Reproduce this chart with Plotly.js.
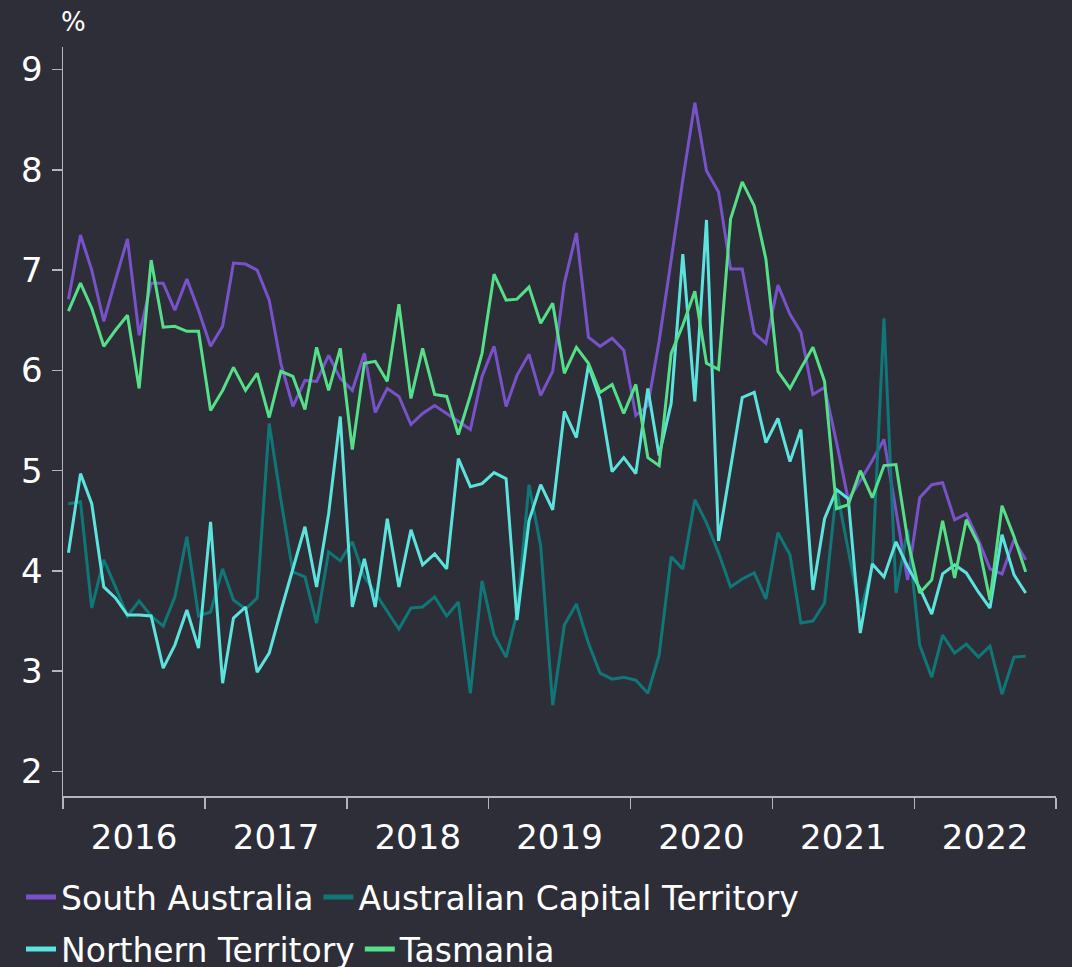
<!DOCTYPE html>
<html>
<head>
<meta charset="utf-8">
<script src="https://cdn.plot.ly/plotly-3.0.1.min.js"></script>
<style>
html,body{margin:0;padding:0;background:#2e2e38;}
#chart{width:1072px;height:967px;}
</style>
</head>
<body>
<div id="chart"></div>
<script>
// Monthly observations, Jan 2016 .. Oct 2022 (82 months)
var startYear = 2016;
var nMonths = 82;
var months = [];
for (var k = 0; k < nMonths; k++) {
  var yy = startYear + Math.floor(k / 12);
  var mm = (k % 12) + 1;
  months.push(yy + '-' + (mm < 10 ? '0' + mm : mm) + '-15');
}

var seriesNames = ['South Australia', 'Australian Capital Territory', 'Northern Territory', 'Tasmania'];

var southAustralia = [
  6.71, 7.35, 7.00, 6.49, 6.90, 7.31, 6.35, 6.87, 6.87, 6.60, 6.91, 6.60,
  6.24, 6.44, 7.07, 7.06, 7.00, 6.70, 6.07, 5.64, 5.90, 5.89, 6.15, 5.92,
  5.80, 6.17, 5.58, 5.82, 5.74, 5.46, 5.57, 5.65, 5.57, 5.49, 5.41, 5.94,
  6.24, 5.64, 5.95, 6.16, 5.75, 5.99, 6.87, 7.37, 6.33, 6.24, 6.32, 6.20,
  5.55, 5.65, 6.29, 7.10, 7.90, 8.67, 7.99, 7.78, 7.01, 7.01, 6.37, 6.27,
  6.85, 6.56, 6.38, 5.76, 5.83, 5.28, 4.71, 4.90, 5.10, 5.31, 4.60, 3.91,
  4.73, 4.86, 4.88, 4.51, 4.57, 4.31, 4.02, 3.97, 4.31, 4.11
];

var capitalTerritory = [
  4.67, 4.69, 3.63, 4.11, 3.84, 3.55, 3.70, 3.55, 3.45, 3.74, 4.34, 3.55,
  3.59, 4.02, 3.71, 3.62, 3.73, 5.47, 4.71, 3.99, 3.94, 3.48, 4.19, 4.10,
  4.29, 3.94, 3.78, 3.59, 3.42, 3.63, 3.64, 3.74, 3.55, 3.69, 2.78, 3.90,
  3.36, 3.14, 3.58, 4.86, 4.25, 2.66, 3.46, 3.67, 3.28, 2.98, 2.92, 2.94,
  2.91, 2.78, 3.16, 4.14, 4.02, 4.71, 4.48, 4.18, 3.84, 3.92, 3.98, 3.72,
  4.38, 4.16, 3.48, 3.50, 3.68, 4.81, 4.21, 3.59, 4.04, 6.52, 3.78, 4.41,
  3.26, 2.94, 3.36, 3.18, 3.27, 3.14, 3.25, 2.77, 3.14, 3.15
];

var northernTerritory = [
  4.18, 4.97, 4.67, 3.84, 3.73, 3.56, 3.56, 3.55, 3.03, 3.26, 3.61, 3.23,
  4.49, 2.88, 3.53, 3.64, 2.99, 3.18, 3.60, 4.01, 4.44, 3.84, 4.57, 5.54,
  3.64, 4.12, 3.64, 4.52, 3.84, 4.41, 4.06, 4.17, 4.02, 5.12, 4.84, 4.87,
  4.98, 4.92, 3.51, 4.50, 4.86, 4.61, 5.59, 5.33, 6.05, 5.71, 4.99, 5.13,
  4.97, 5.82, 5.15, 5.67, 7.16, 5.69, 7.50, 4.30, 5.02, 5.73, 5.78, 5.28,
  5.52, 5.09, 5.41, 3.81, 4.52, 4.81, 4.72, 3.38, 4.07, 3.94, 4.29, 4.04,
  3.83, 3.57, 3.97, 4.06, 3.98, 3.79, 3.63, 4.36, 3.96, 3.78
];

var tasmania = [
  6.59, 6.87, 6.62, 6.24, 6.40, 6.55, 5.82, 7.10, 6.43, 6.44, 6.39, 6.39,
  5.60, 5.80, 6.03, 5.80, 5.97, 5.53, 5.99, 5.94, 5.61, 6.23, 5.80, 6.22,
  5.21, 6.07, 6.09, 5.89, 6.66, 5.72, 6.22, 5.76, 5.74, 5.36, 5.75, 6.17,
  6.96, 6.70, 6.71, 6.83, 6.47, 6.67, 5.97, 6.23, 6.07, 5.78, 5.86, 5.57,
  5.86, 5.13, 5.05, 6.17, 6.45, 6.79, 6.07, 6.01, 7.51, 7.88, 7.64, 7.11,
  5.99, 5.82, 6.02, 6.23, 5.89, 4.62, 4.66, 5.00, 4.73, 5.05, 5.06, 4.31,
  3.78, 3.91, 4.50, 3.93, 4.51, 4.27, 3.71, 4.65, 4.34, 3.99
];

var colors = ['#7852c9', '#0f7777', '#5ce3de', '#55df88'];
var values = [southAustralia, capitalTerritory, northernTerritory, tasmania];
var legendIds = ['legend', 'legend', 'legend2', 'legend2'];

var traces = [];
for (var s = 0; s < 4; s++) {
  traces.push({
    type: 'scatter',
    mode: 'lines',
    name: seriesNames[s],
    x: months,
    y: values[s],
    line: {color: colors[s], width: 3},
    legend: legendIds[s],
    hoverinfo: 'skip'
  });
}

var axisGrey = '#b4b4bc';
var fontFam = '"DejaVu Sans", "Open Sans", sans-serif';

var legendCommon = {
  orientation: 'h',
  xref: 'container',
  yref: 'container',
  xanchor: 'left',
  yanchor: 'top',
  x: 0.0196,
  bgcolor: 'rgba(0,0,0,0)',
  borderwidth: 0,
  font: {family: fontFam, size: 33, color: '#ffffff'},
  tracegroupgap: 0,
  itemsizing: 'constant'
};

var layout = {
  width: 1072,
  height: 967,
  paper_bgcolor: '#2e2e38',
  plot_bgcolor: '#2e2e38',
  font: {family: fontFam, color: '#ffffff', size: 33},
  margin: {l: 63, r: 16, t: 47, b: 171, pad: 0},
  showlegend: true,
  legend: Object.assign({}, legendCommon, {y: 0.1012}),
  legend2: Object.assign({}, legendCommon, {y: 0.0475}),
  xaxis: {
    type: 'date',
    range: ['2016-01-01', '2023-01-01'],
    tick0: '2016-01-01',
    dtick: 'M12',
    tickformat: '%Y',
    ticklabelmode: 'period',
    ticks: 'outside',
    ticklen: 11,
    tickwidth: 1.5,
    tickcolor: axisGrey,
    showline: true,
    linecolor: axisGrey,
    linewidth: 1.5,
    showgrid: false,
    zeroline: false,
    tickfont: {family: fontFam, size: 34, color: '#ffffff'}
  },
  yaxis: {
    range: [1.755, 9.225],
    tick0: 0,
    dtick: 1,
    ticks: 'outside',
    ticklen: 10,
    tickwidth: 1.5,
    tickcolor: axisGrey,
    showline: true,
    linecolor: axisGrey,
    linewidth: 1.5,
    showgrid: false,
    zeroline: false,
    ticklabelstandoff: 2,
    tickfont: {family: fontFam, size: 34, color: '#ffffff'}
  },
  annotations: [{
    text: '%',
    xref: 'paper', yref: 'paper',
    x: 0.011, y: 1.0334,
    xanchor: 'center', yanchor: 'middle',
    showarrow: false,
    font: {family: fontFam, size: 26, color: '#ffffff'}
  }]
};

Plotly.newPlot('chart', traces, layout, {staticPlot: true, displayModeBar: false});
</script>
</body>
</html>
